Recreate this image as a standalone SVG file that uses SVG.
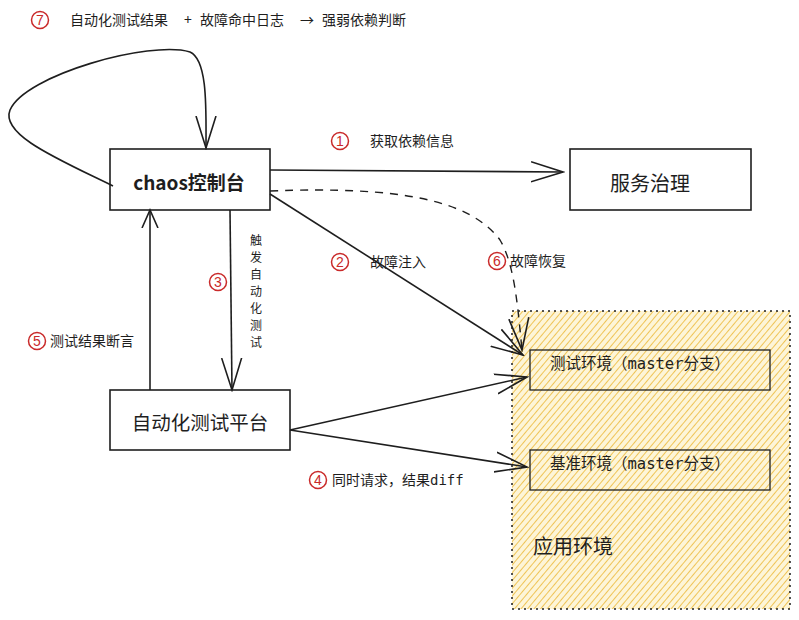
<svg xmlns="http://www.w3.org/2000/svg" width="799" height="620" viewBox="0 0 799 620">
<defs>
<pattern id="hatch" width="5" height="5" patternUnits="userSpaceOnUse" patternTransform="rotate(40)">
<rect width="5" height="5" fill="#fdf5d8"/>
<line x1="0" y1="0" x2="0" y2="5" stroke="#efc457" stroke-width="2"/>
</pattern>
<marker id="arr" viewBox="0 0 20 20" refX="18" refY="10" markerWidth="20" markerHeight="20" markerUnits="userSpaceOnUse" orient="auto">
<path d="M0,2 L18,10 L0,18" fill="none" stroke="#1e1e1e" stroke-width="1.6"/>
</marker>
<marker id="arrBig" viewBox="0 0 34 24" refX="32" refY="12" markerWidth="34" markerHeight="24" markerUnits="userSpaceOnUse" orient="auto">
<path d="M0,2 L32,12 L0,22" fill="none" stroke="#1e1e1e" stroke-width="1.6"/>
</marker>
</defs>
<style>
text{font-family:"Noto Sans CJK SC","Noto Sans",sans-serif;fill:#1e1e1e}
.box{fill:#fff;stroke:#1e1e1e;stroke-width:1.6}
.sub{fill:none;stroke:#1e1e1e;stroke-width:1.3}
.line{fill:none;stroke:#1e1e1e;stroke-width:1.6}
.dash{fill:none;stroke:#1e1e1e;stroke-width:1.4;stroke-dasharray:8 7}
.num{fill:none;stroke:#c92a2a;stroke-width:1.5}
.numt{fill:#c92a2a;font-size:14px;font-family:"Liberation Sans",sans-serif;text-anchor:middle}
.lbl{font-size:14px}
.vt{font-size:12px;text-anchor:middle}
.mono{font-family:"DejaVu Sans Mono","Noto Sans CJK SC",monospace}
</style>

<g id="app-env">
<rect x="512" y="311" width="278" height="298" fill="url(#hatch)" stroke="#1e1e1e" stroke-width="1.5" stroke-dasharray="2 4"/>
<text x="533" y="554" font-size="20">应用环境</text>
</g>

<g id="test-env">
<rect x="530" y="350" width="240" height="40" class="sub"/>
<text x="550" y="369" font-size="15.5" class="mono">测试环境（master分支）</text>
</g>

<g id="base-env">
<rect x="530" y="450" width="240" height="40" class="sub"/>
<text x="550" y="469" font-size="15.5" class="mono">基准环境（master分支）</text>
</g>

<g id="chaos">
<rect x="110" y="149" width="160" height="61" class="box"/>
<text x="189" y="190" font-size="19" font-weight="600" text-anchor="middle">chaos控制台</text>
</g>

<g id="service">
<rect x="570" y="149" width="181" height="61" class="box"/>
<text x="650" y="191" font-size="20" text-anchor="middle">服务治理</text>
</g>

<g id="autotest">
<rect x="110" y="390" width="180" height="60" class="box"/>
<text x="200" y="430" font-size="19.5" text-anchor="middle">自动化测试平台</text>
</g>

<g id="connectors">
<path d="M113,186 C60,160 0,135 10,110 C25,75 150,40 190,52 C208,60 206,110 206,148" class="line" marker-end="url(#arrBig)"/>
<path d="M270,170 L563,172" class="line" marker-end="url(#arrBig)"/>
<path d="M270,191 C400,186 470,200 500,240 C515,265 518,310 522,350" class="dash" marker-end="url(#arrBig)"/>
<path d="M270,194 L523,355" class="line" marker-end="url(#arrBig)"/>
<path d="M230,210 L232,390" class="line" marker-end="url(#arrBig)"/>
<path d="M150,390 L150,210" class="line" marker-end="url(#arr)"/>
<path d="M290,430 L527,377" class="line" marker-end="url(#arrBig)"/>
<path d="M290,430 L527,467" class="line" marker-end="url(#arrBig)"/>
</g>

<g id="labels">
<circle cx="40" cy="20" r="8.5" class="num"/><text x="40" y="25" class="numt">7</text>
<text x="70" y="25" class="lbl">自动化测试结果</text>
<text x="188" y="25" class="lbl" text-anchor="middle">+</text>
<text x="200" y="25" class="lbl">故障命中日志</text>
<text x="307" y="25" class="lbl" text-anchor="middle">→</text>
<text x="322" y="25" class="lbl">强弱依赖判断</text>

<circle cx="340" cy="141" r="8.5" class="num"/><text x="340" y="146" class="numt">1</text>
<text x="370" y="146" class="lbl">获取依赖信息</text>

<circle cx="340" cy="262" r="8.5" class="num"/><text x="340" y="267" class="numt">2</text>
<text x="370" y="267" class="lbl">故障注入</text>

<circle cx="218" cy="282" r="8.5" class="num"/><text x="218" y="287" class="numt">3</text>
<text x="256" y="245" class="vt">触</text>
<text x="256" y="262" class="vt">发</text>
<text x="256" y="279" class="vt">自</text>
<text x="256" y="296" class="vt">动</text>
<text x="256" y="313" class="vt">化</text>
<text x="256" y="330" class="vt">测</text>
<text x="256" y="347" class="vt">试</text>

<circle cx="318" cy="480" r="8.5" class="num"/><text x="318" y="485" class="numt">4</text>
<text x="332" y="485" class="lbl">同时请求，结果<tspan class="mono">diff</tspan></text>

<circle cx="37" cy="341" r="8.5" class="num"/><text x="37" y="346" class="numt">5</text>
<text x="50" y="346" class="lbl">测试结果断言</text>

<circle cx="497" cy="261" r="8.5" class="num"/><text x="497" y="266" class="numt">6</text>
<text x="510" y="266" class="lbl">故障恢复</text>
</g>
</svg>
